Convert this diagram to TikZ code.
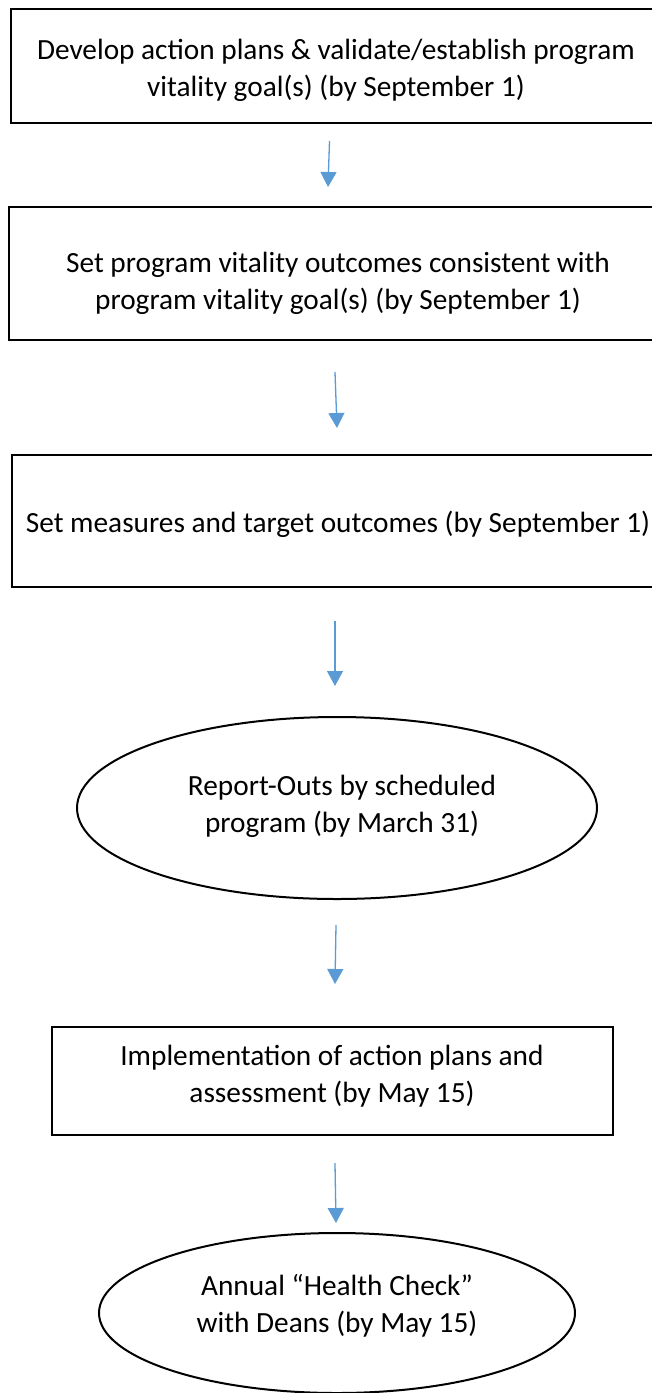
\documentclass[tikz,border=0pt]{standalone}
\usepackage{fontspec}
\setmainfont{Carlito}
\usetikzlibrary{shapes.geometric,arrows.meta}
\definecolor{arrowblue}{HTML}{5B9BD5}
\begin{document}
\begin{tikzpicture}[x=1pt,y=-1pt,
  box/.style={draw=black, line width=2pt, inner sep=0pt, rectangle},
  ell/.style={draw=black, line width=2pt, inner sep=0pt, ellipse},
  lbl/.style={align=center, inner sep=0pt, font=\fontsize{29.3}{37}\selectfont},
  flow/.style={draw=arrowblue, line width=1.3pt, -{Triangle[width=16pt,length=15pt]}}]
\useasboundingbox (0,0) rectangle (652,1393);
\clip (0,0) rectangle (652,1393);
\fill[white] (0,0) rectangle (652,1393);

% shapes (the three upper boxes run past the right edge of the page)
\node[box, minimum width=689pt, minimum height=114pt] (b1) at (355.5,66) {};
\node[box, minimum width=691pt, minimum height=133pt] (b2) at (354.5,273.5) {};
\node[box, minimum width=688pt, minimum height=132pt] (b3) at (356,521) {};
\node[ell, minimum width=520pt, minimum height=182pt] (e1) at (337,808) {};
\node[box, minimum width=561pt, minimum height=108pt] (b4) at (332.5,1081) {};
\node[ell, minimum width=476pt, minimum height=160pt] (e2) at (337,1313) {};

% texts
\node[lbl] (t1) at (336,70.5) {Develop action plans \& validate/establish program\\vitality goal(s) (by September 1)};
\node[lbl] (t2) at (338,283.5) {Set program vitality outcomes consistent with\\program vitality goal(s) (by September 1)};
\node[lbl] (t3) at (338,524) {Set measures and target outcomes (by September 1)};
\node[lbl] (t4) at (342,806) {Report-Outs by scheduled\\program (by March 31)};
\node[lbl] (t5) at (332,1076) {Implementation of action plans and\\assessment (by May 15)};
\node[lbl] (t6) at (337,1306) {Annual “Health Check”\\with Deans (by May 15)};

% connector ends
\coordinate (a1s) at (329.5,141);  \coordinate (a1e) at (328,187);
\coordinate (a2s) at (335,372);    \coordinate (a2e) at (337,428);
\coordinate (a3s) at (335,621);    \coordinate (a3e) at (335,686);
\coordinate (a4s) at (336,925);    \coordinate (a4e) at (335,984);
\coordinate (a5s) at (335,1163);   \coordinate (a5e) at (336,1223);

\draw[flow] (a1s) -- (a1e);
\draw[flow] (a2s) -- (a2e);
\draw[flow] (a3s) -- (a3e);
\draw[flow] (a4s) -- (a4e);
\draw[flow] (a5s) -- (a5e);
\end{tikzpicture}
\end{document}
